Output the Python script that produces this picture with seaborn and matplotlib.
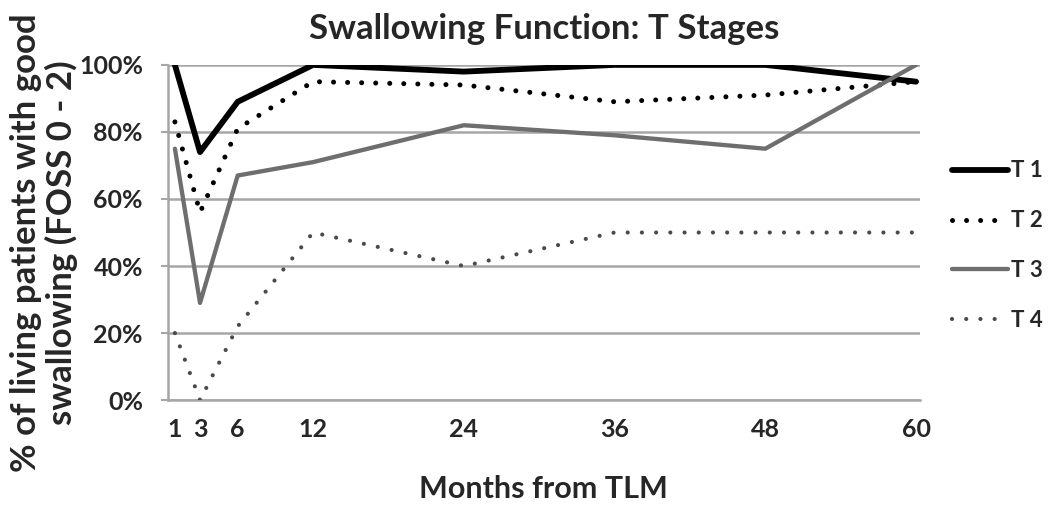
import numpy as np
import pandas as pd
import matplotlib
matplotlib.use("Agg")
import matplotlib.pyplot as plt
from matplotlib.ticker import PercentFormatter
import seaborn as sns

months = [1, 3, 6, 12, 24, 36, 48, 60]
t1 = [100, 74, 89, 100, 98, 100, 100, 95]
t2 = [83, 56, 81, 95, 94, 89, 91, 95]
t3 = [75, 29, 67, 71, 82, 79, 75, 100]
t4 = [20, 0, 22, 50, 40, 50, 50, 50]
stages = ["T 1", "T 2", "T 3", "T 4"]

sns.set_theme(style="white")
plt.rcParams["font.family"] = ["Lato", "DejaVu Sans"]
plt.rcParams["font.weight"] = "bold"

fig = plt.figure(figsize=(10.5, 5.11), dpi=100)
ax = fig.add_axes([0.16, 0.217, 0.716, 0.656])

styles = [
    dict(color="black", lw=4.2, ls="-"),
    dict(color="black", lw=3.6, ls=(0, (0.01, 2.8)), dash_capstyle="round"),
    dict(color="#6e6e6e", lw=3.1, ls="-"),
    dict(color="#4a4a4a", lw=3.0, ls=(0, (0.01, 3.4)), dash_capstyle="round"),
]

for label, vals, st in zip(stages, [t1, t2, t3, t4], styles):
    df = pd.DataFrame({"month": months, "pct": vals})
    sns.lineplot(data=df, x="month", y="pct", ax=ax, label=label, zorder=3, **st)

ax.set_xlim(0.45, 60.3)
ax.set_ylim(0, 100)
ax.set_xticks(months)
ax.set_yticks(np.arange(0, 101, 20))
ax.yaxis.set_major_formatter(PercentFormatter(decimals=0))
ax.grid(axis="y", color="#a6a6a6", lw=1.8)
ax.grid(axis="x", visible=False)
for side in ["top", "right"]:
    ax.spines[side].set_visible(False)
for side in ["left", "bottom"]:
    ax.spines[side].set_color("#a6a6a6")
    ax.spines[side].set_linewidth(1.8)
ax.tick_params(axis="y", left=True, length=5, width=1.5, color="#a6a6a6", labelsize=18, pad=13)
ax.tick_params(axis="x", bottom=False, labelsize=18, pad=7)
for lab in ax.get_xticklabels() + ax.get_yticklabels():
    lab.set_fontweight("bold")

ax.set_title("Swallowing Function: T Stages", fontsize=25, fontweight="bold", pad=19)
ax.set_xlabel("Months from TLM", fontsize=22, fontweight="bold", labelpad=24)
ax.set_ylabel("% of living patients with good\nswallowing (FOSS 0 - 2)", fontsize=25,
              fontweight="bold", linespacing=1.08)
ax.yaxis.set_label_coords(-0.12, 0.47)

ax.legend(loc="center left", bbox_to_anchor=(0.907, 0.519), bbox_transform=fig.transFigure,
          frameon=False, handlelength=2.5, handletextpad=0.15, labelspacing=1.3,
          borderpad=0, borderaxespad=0, prop={"size": 16, "weight": "bold"})

fig.savefig("out.png", dpi=100)
